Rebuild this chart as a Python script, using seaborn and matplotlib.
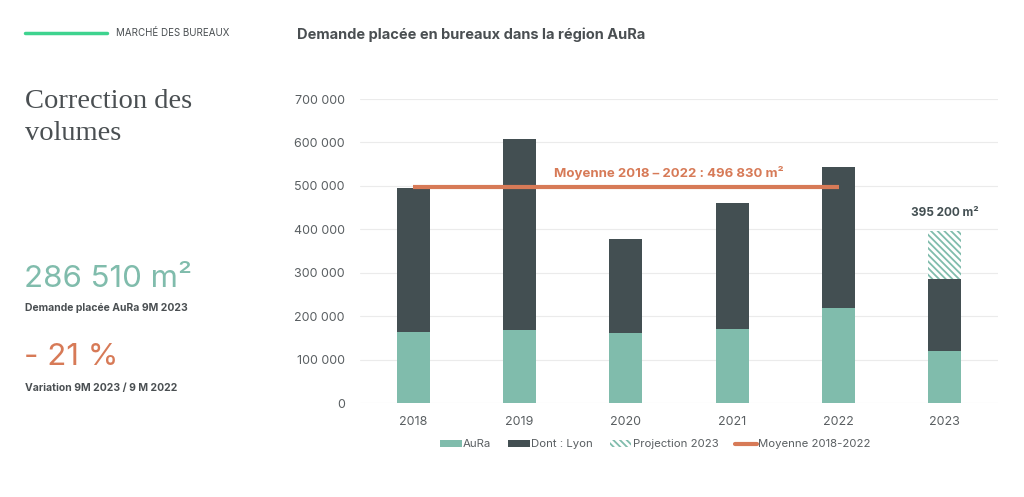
import matplotlib
matplotlib.use("Agg")
import matplotlib.pyplot as plt
import seaborn as sns
import pandas as pd
import numpy as np
from matplotlib.patches import Patch
from matplotlib.lines import Line2D
from matplotlib.ticker import FuncFormatter

# ---- data ----
years = ["2018", "2019", "2020", "2021", "2022", "2023"]
aura = [163000, 168600, 161000, 170000, 218500, 120000]
lyon = [331600, 438400, 216000, 291000, 325500, 166510]
projection_2023 = [np.nan, np.nan, np.nan, np.nan, np.nan, 395200]
moyenne = 496830
yticks = [0, 100000, 200000, 300000, 400000, 500000, 600000, 700000]

C_GREEN = "#80bcac"
C_DARK = "#434f52"
C_ORANGE = "#d77a57"
C_TEXT = "#4a4f52"
C_TICK = "#5a5f62"
HATCH = "\\\\\\\\\\"

sns.set_theme(style="white")
plt.rcParams["font.family"] = ["Inter", "DejaVu Sans"]
plt.rcParams["hatch.linewidth"] = 1.3

df = pd.DataFrame({"year": years, "aura": aura, "lyon": lyon, "proj": projection_2023})
df["total"] = df["aura"] + df["lyon"]

fig = plt.figure(figsize=(10.24, 4.97), dpi=100)
ax = fig.add_axes([0.3516, 0.189, 0.623, 0.6118])

W = 0.31
sns.barplot(data=df, x="year", y="proj", color="white", linewidth=0,
            width=W, errorbar=None, saturation=1, ax=ax)
for p in ax.patches:
    p.set_facecolor("white")
    p.set_edgecolor(C_GREEN)
    p.set_linewidth(0)
    p.set_hatch(HATCH)
sns.barplot(data=df, x="year", y="total", color=C_DARK, linewidth=0, width=W,
            errorbar=None, saturation=1, ax=ax)
sns.barplot(data=df, x="year", y="aura", color=C_GREEN, linewidth=0, width=W,
            errorbar=None, saturation=1, ax=ax)

ax.plot([0, 4], [moyenne, moyenne], color=C_ORANGE, lw=3, solid_capstyle="butt", zorder=5)
ax.text(2.4, moyenne + 32000, "Moyenne 2018 \u2013 2022 : 496 830 m\u00b2", color=C_ORANGE,
        fontsize=9.5, fontweight="bold", ha="center", va="center")
ax.text(5, 395200 + 42000, "395 200 m\u00b2", color=C_DARK, fontsize=8.5, fontweight="bold",
        ha="center", va="center")

ax.set_xlim(-0.5, 5.5)
ax.set_ylim(0, 700000)
ax.set_yticks(yticks)
ax.yaxis.set_major_formatter(FuncFormatter(lambda v, p: f"{int(v):,}".replace(",", " ")))
ax.grid(axis="y", color="#ebebeb", lw=0.8)
ax.set_axisbelow(True)
for s in ax.spines.values():
    s.set_visible(False)
ax.set_xlabel("")
ax.set_ylabel("")
ax.tick_params(axis="both", length=0, labelsize=9, colors=C_TICK)
ax.tick_params(axis="y", pad=11)
ax.tick_params(axis="x", pad=9)

handles = [
    Patch(facecolor=C_GREEN, edgecolor="none", label="AuRa"),
    Patch(facecolor=C_DARK, edgecolor="none", label="Dont : Lyon"),
    Patch(facecolor="white", edgecolor=C_GREEN, linewidth=0, hatch=HATCH, label="Projection 2023"),
    Line2D([0], [0], color=C_ORANGE, lw=3, label="Moyenne 2018-2022"),
]
fig.legend(handles=handles, loc="center", bbox_to_anchor=(0.64, 0.106), ncol=4, frameon=False,
           fontsize=8.2, labelcolor=C_TICK, handlelength=1.9, handleheight=0.6,
           handletextpad=0.1, columnspacing=1.5)

# ---- side texts ----
fig.add_artist(Line2D([25 / 1024, 107 / 1024], [1 - 33 / 497, 1 - 33 / 497], color="#3ed38f", lw=2.5))
fig.text(116 / 1024, 1 - 33 / 497, "MARCHÉ DES BUREAUX", fontsize=7, color=C_TEXT, va="center")
fig.text(297 / 1024, 1 - 35 / 497, "Demande placée en bureaux dans la région AuRa", fontsize=10.5,
         fontweight="bold", color=C_TEXT, va="center")
fig.text(25 / 1024, 1 - 101 / 497, "Correction des", family="Liberation Serif", fontsize=20.5,
         color=C_TEXT, va="center")
fig.text(25 / 1024, 1 - 134 / 497, "volumes", family="Liberation Serif", fontsize=20.5,
         color=C_TEXT, va="center")
fig.text(24 / 1024, 1 - 279 / 497, "286 510 m\u00b2", fontsize=22.5, fontweight="normal",
         color=C_GREEN, va="center")
fig.text(25 / 1024, 1 - 308 / 497, "Demande placée AuRa 9M 2023", fontsize=7.5, fontweight="bold",
         color=C_TEXT, va="center")
fig.text(24 / 1024, 1 - 357 / 497, "- 21 %", fontsize=22.5, fontweight="normal",
         color=C_ORANGE, va="center")
fig.text(25 / 1024, 1 - 388 / 497, "Variation 9M 2023 / 9 M 2022", fontsize=7.5, fontweight="bold",
         color=C_TEXT, va="center")

fig.savefig("out.png", dpi=100, facecolor="white")
